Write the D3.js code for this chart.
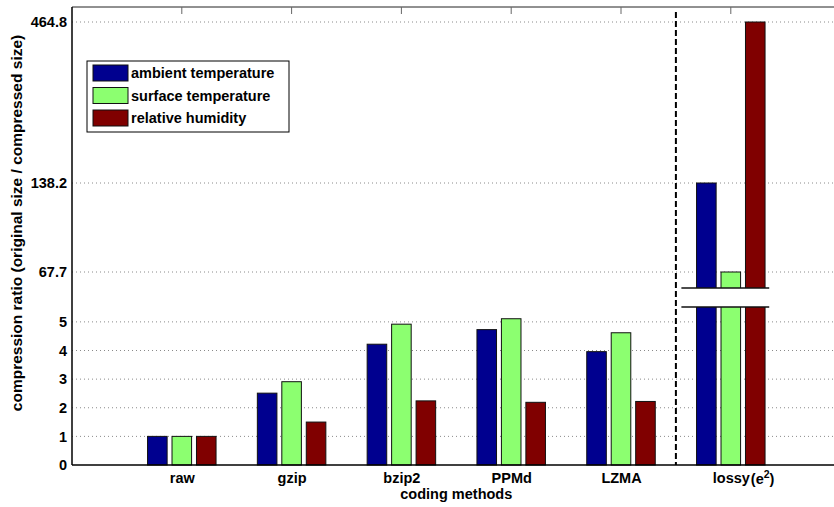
<!DOCTYPE html>
<html>
<head>
<meta charset="utf-8">
<script src="https://cdn.jsdelivr.net/npm/d3@7"></script>
<style>
  body { margin: 0; background: #fff; }
  svg { font-family: "Liberation Sans", Arial, sans-serif; }
</style>
</head>
<body>
<svg id="chart" width="834" height="507"></svg>
<script>
// coding methods on the x axis
const categories = ["raw", "gzip", "bzip2", "PPMd", "LZMA", "lossy"];
const seriesNames = ["ambient temperature", "surface temperature", "relative humidity"];
const seriesColors = ["#00008f", "#8cff70", "#800000"];

// compression ratios, one value per category
const ambient = [1, 2.51, 4.22, 4.73, 3.96, 138.2];
const surface = [1, 2.91, 4.92, 5.11, 4.62, 67.7];
const humidity = [1, 1.50, 2.24, 2.19, 2.22, 464.8];

const yTicks = [0, 1, 2, 3, 4, 5, 67.7, 138.2, 464.8];

/**
 * Draw chart
 */
const drawChart = () => {
  const svg = d3.select("#chart");
  const left = 72, top = 7, bottom = 465;

  // categories sit at 1..6, axis runs 0..7 (cropped on the right)
  const x = d3.scaleLinear().domain([0, 7]).range([left, left + 7 * 109.8]);
  const xInner = d3.scaleBand().domain(d3.range(3)).range([-34.25, 34.25]).paddingInner(0.2);

  // broken axis: linear 0..5.5 below the break, compressed scale above it
  const breakLow = 5.52, breakHigh = 55;
  const y = d3.scaleLinear()
    .domain([0, breakLow, breakHigh, 67.7, 138.2, 464.8])
    .range([bottom, 307, 288, 272, 183, 22]);

  const g = svg.append("g");

  // grid lines
  g.append("g")
    .selectAll("line")
    .data(yTicks.filter(d => d > 0))
    .join("line")
    .attr("x1", left).attr("x2", 834)
    .attr("y1", d => y(d)).attr("y2", d => y(d))
    .attr("stroke", "#8a8a8a")
    .attr("stroke-width", 1)
    .attr("stroke-dasharray", "1,3");

  // bars
  const series = [ambient, surface, humidity];
  series.forEach((values, s) => {
    g.append("g")
      .selectAll("rect")
      .data(values)
      .join("rect")
      .attr("x", (d, i) => x(i + 1) + xInner(s))
      .attr("y", d => y(d))
      .attr("width", xInner.bandwidth())
      .attr("height", d => y(0) - y(d))
      .attr("fill", seriesColors[s])
      .attr("stroke", "#111")
      .attr("stroke-width", 1);
  });

  // axis break over the lossy group
  const bx1 = x(5.55), bx2 = x(6.35);
  g.append("rect")
    .attr("x", bx1).attr("y", y(breakHigh))
    .attr("width", bx2 - bx1).attr("height", y(breakLow) - y(breakHigh))
    .attr("fill", "#fff");
  [breakHigh, breakLow].forEach(v => {
    g.append("line")
      .attr("x1", bx1).attr("x2", bx2)
      .attr("y1", y(v)).attr("y2", y(v))
      .attr("stroke", "#111")
      .attr("stroke-width", 1.5);
  });

  // dashed separator between lossless and lossy
  g.append("line")
    .attr("x1", x(5.5)).attr("x2", x(5.5))
    .attr("y1", top + 5).attr("y2", bottom)
    .attr("stroke", "#000")
    .attr("stroke-width", 2)
    .attr("stroke-dasharray", "6,3");

  // frame: top border with inward ticks, left and bottom axes
  g.append("line")
    .attr("x1", left).attr("x2", 834).attr("y1", top).attr("y2", top)
    .attr("stroke", "#222").attr("stroke-width", 1);
  g.append("g")
    .selectAll("line")
    .data(d3.range(1, 7))
    .join("line")
    .attr("x1", d => x(d)).attr("x2", d => x(d))
    .attr("y1", top).attr("y2", top + 7)
    .attr("stroke", "#666");

  // Y - Axis
  const yAxis = g.append("g")
    .attr("transform", `translate(${left},0)`)
    .call(d3.axisLeft(y).tickValues(yTicks).tickSize(0).tickPadding(5)
      .tickFormat(d => d > 5 ? d3.format(".1f")(d) : d));
  yAxis.select(".domain").attr("stroke", "#000").attr("stroke-width", 1.5)
    .attr("d", `M0,${top}V${bottom}`);
  yAxis.selectAll("text")
    .attr("font-size", 14.5).attr("font-weight", "bold").attr("fill", "#000")
    .attr("font-family", "Liberation Sans, Arial, sans-serif");

  // X - Axis
  const xAxis = g.append("g")
    .attr("transform", `translate(0,${bottom})`)
    .call(d3.axisBottom(x).tickValues(d3.range(1, 7)).tickSize(0).tickPadding(8)
      .tickFormat(d => categories[d - 1]));
  xAxis.select(".domain").attr("stroke", "#000").attr("stroke-width", 1.5)
    .attr("d", `M${left},0H834`);
  xAxis.selectAll("text")
    .attr("font-size", 14.5).attr("font-weight", "bold").attr("fill", "#000")
    .attr("font-family", "Liberation Sans, Arial, sans-serif");

  // (e^2) after "lossy"
  const e2 = g.append("text")
    .attr("x", x(6) + 20).attr("y", 484)
    .attr("font-size", 14.5).attr("font-weight", "bold");
  e2.append("tspan").text("(e");
  e2.append("tspan").attr("font-size", 10.5).attr("dy", -6).text("2");
  e2.append("tspan").attr("dy", 6).text(")");

  // X - Axis Label
  g.append("text")
    .attr("x", x(3.5)).attr("y", 499)
    .attr("text-anchor", "middle")
    .attr("font-size", 14.5).attr("font-weight", "bold")
    .text("coding methods");

  // Y - Axis Label
  g.append("text")
    .attr("transform", "translate(22,223) rotate(-90)")
    .attr("text-anchor", "middle")
    .attr("font-size", 15.5).attr("font-weight", "bold")
    .text("compression ratio (original size / compressed size)");

  // Legend
  const legend = g.append("g").attr("transform", "translate(87,61)");
  legend.append("rect")
    .attr("width", 202).attr("height", 71)
    .attr("fill", "#fff").attr("stroke", "#000").attr("stroke-width", 1);
  seriesNames.forEach((name, i) => {
    legend.append("rect")
      .attr("x", 6).attr("y", 4 + i * 22.5)
      .attr("width", 35).attr("height", 16)
      .attr("fill", seriesColors[i]).attr("stroke", "#111");
    legend.append("text")
      .attr("x", 44).attr("y", 17 + i * 22.5)
      .attr("font-size", 14.5).attr("font-weight", "bold")
      .text(name);
  });
};

drawChart();
</script>
</body>
</html>
